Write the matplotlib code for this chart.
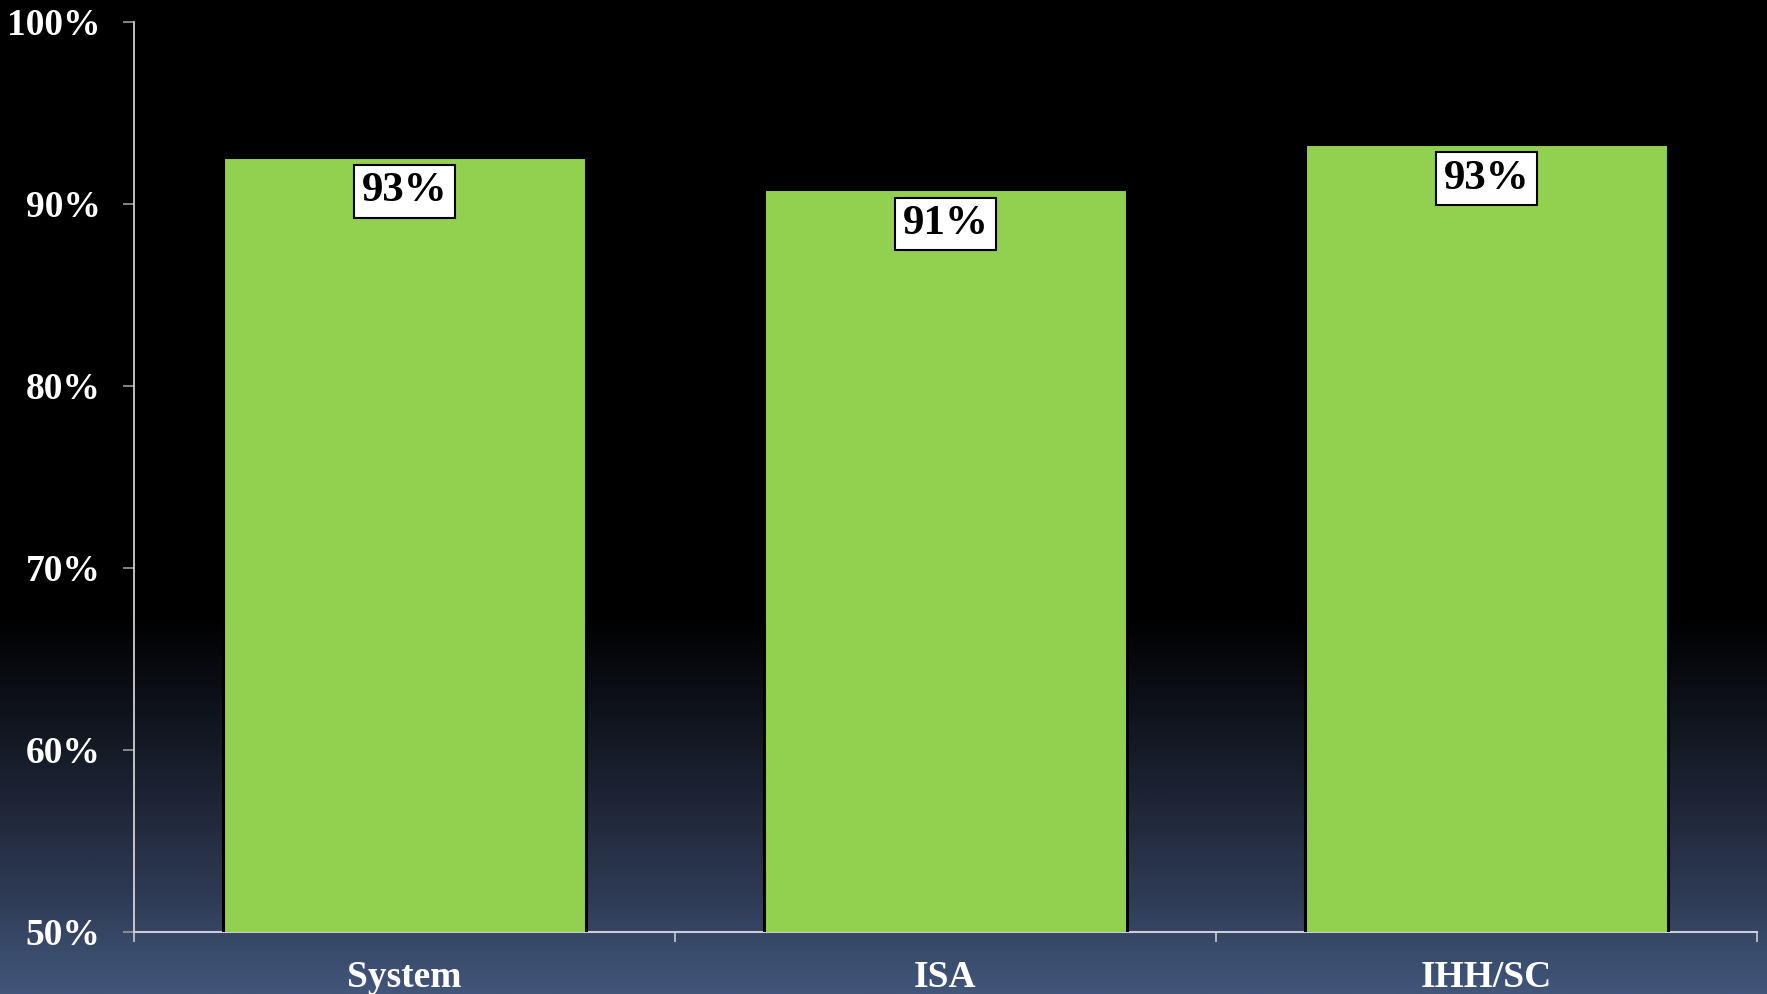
import numpy as np
import matplotlib.pyplot as plt
from matplotlib.colors import LinearSegmentedColormap

categories = ['System', 'ISA', 'IHH/SC']
values = [92.6, 90.8, 93.3]
labels = ['93%', '91%', '93%']

plt.rcParams['font.family'] = ['Liberation Serif', 'DejaVu Serif']
plt.rcParams['font.weight'] = 'bold'

fig = plt.figure(figsize=(17.67, 9.94), dpi=100)

# background gradient: black top, slate blue at the bottom
bg = fig.add_axes([0, 0, 1, 1], zorder=-10)
cmap = LinearSegmentedColormap.from_list(
    'bg', [(0, '#000000'), (0.62, '#000000'), (0.8, '#1c2333'),
           (0.9, '#2e3a54'), (1.0, '#42567a')])
grad = np.linspace(0, 1, 500).reshape(-1, 1)
bg.imshow(grad, aspect='auto', cmap=cmap, extent=[0, 1, 0, 1], origin='upper')
bg.axis('off')

ax = fig.add_axes([0.0758, 0.0624, 0.9185, 0.9155])
ax.patch.set_alpha(0)

x = np.arange(len(categories))
ax.bar(x, values, width=0.67, color='#92d050', edgecolor='black',
       linewidth=2.2, zorder=3)

for xi, v, lab in zip(x, values, labels):
    ax.annotate(lab, (xi, v), xytext=(0, -25), textcoords='offset points',
                ha='center', va='center', fontsize=31, fontweight='bold',
                color='black', zorder=5,
                bbox=dict(boxstyle='square,pad=0.17', fc='white', ec='black', lw=1.5))

ax.set_xlim(-0.5, len(categories) - 0.5)
ax.set_ylim(50, 100)
ax.set_yticks(range(50, 101, 10))
ax.set_yticklabels([f'{t}%' for t in range(50, 101, 10)])

ax.set_xticks(np.arange(-0.5, len(categories), 1.0))
ax.set_xticklabels([])
ax.set_xticks(x, minor=True)
ax.set_xticklabels(categories, minor=True)
ax.tick_params(axis='x', which='minor', length=0, pad=20, labelsize=27, colors='white')
ax.tick_params(axis='x', which='major', length=7, width=1.2, color='#c8cdd6', direction='out')
ax.tick_params(axis='y', length=8, width=1.2, color='#9a9a9a', labelsize=27,
               labelcolor='white', pad=16)

for s in ['top', 'right']:
    ax.spines[s].set_visible(False)
ax.spines['left'].set_color('#e0e0e0')
ax.spines['bottom'].set_color('#c8cdd6')
ax.spines['left'].set_linewidth(1.2)
ax.spines['bottom'].set_linewidth(1.5)

fig.savefig('out.png', dpi=100)
